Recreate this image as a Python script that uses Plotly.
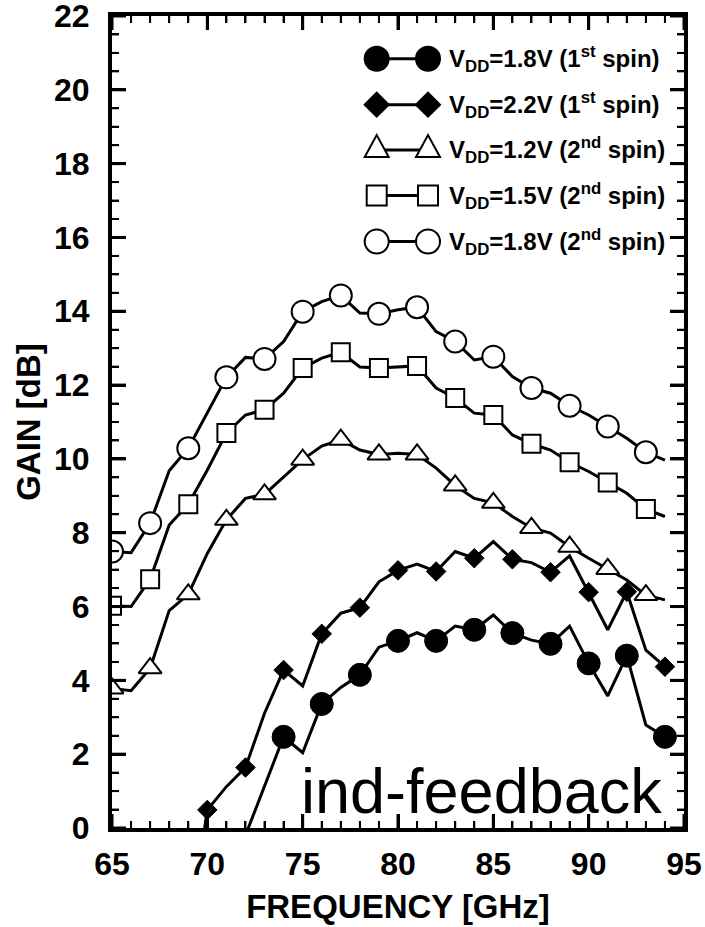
import plotly.graph_objects as go

# ---------------- data ----------------
FREQ_2ND = list(range(65, 95))
MARK_2ND = list(range(65, 95, 2))
GAIN_12V_2ND = [3.78, 3.72, 4.33, 5.89, 6.33, 7.44, 8.35, 8.93, 9.04, 9.52,
                9.98, 10.35, 10.52, 10.24, 10.12, 10.15, 10.12, 9.75, 9.28, 8.93,
                8.81, 8.44, 8.13, 7.99, 7.62, 7.31, 7.02, 6.72, 6.31, 6.18]
GAIN_15V_2ND = [6.02, 6.00, 6.74, 8.21, 8.77, 9.70, 10.70, 11.19, 11.33, 11.78,
                12.46, 12.73, 12.89, 12.49, 12.46, 12.49, 12.52, 11.92, 11.65, 11.24,
                11.19, 10.65, 10.41, 10.24, 9.91, 9.66, 9.36, 9.07, 8.64, 8.44]
GAIN_18V_2ND = [7.49, 7.46, 8.26, 9.68, 10.29, 11.25, 12.21, 12.75, 12.71, 13.18,
                13.99, 14.26, 14.43, 13.95, 13.93, 14.04, 14.11, 13.45, 13.18, 12.68,
                12.77, 12.23, 11.92, 11.78, 11.44, 11.19, 10.88, 10.56, 10.18, 9.97]

FREQ_22V_1ST = list(range(69, 95))
MARK_22V_1ST = list(range(70, 95, 2))
GAIN_22V_1ST = [-3.0, 0.49, 1.12, 1.64, 3.11, 4.28, 3.85, 5.26, 5.82, 5.97,
                6.67, 6.98, 7.15, 6.95, 7.49, 7.31, 7.76, 7.28, 7.19, 6.93,
                7.37, 6.39, 5.37, 6.40, 4.82, 4.37]

FREQ_18V_1ST = list(range(72, 95))
MARK_18V_1ST = list(range(74, 95, 2))
GAIN_18V_1ST = [-0.2, 1.15, 2.47, 2.04, 3.36, 3.81, 4.15, 4.90, 5.07, 5.29,
                5.07, 5.47, 5.37, 5.77, 5.28, 5.09, 4.99, 5.47, 4.46, 3.58,
                4.67, 2.79, 2.47]

LEGEND_LABELS = [
    "V<sub>DD</sub>=1.8V (1<sup>st</sup> spin)",
    "V<sub>DD</sub>=2.2V (1<sup>st</sup> spin)",
    "V<sub>DD</sub>=1.2V (2<sup>nd</sup> spin)",
    "V<sub>DD</sub>=1.5V (2<sup>nd</sup> spin)",
    "V<sub>DD</sub>=1.8V (2<sup>nd</sup> spin)",
]
X_TITLE = "FREQUENCY [GHz]"
Y_TITLE = "GAIN [dB]"
NOTE = "ind-feedback"

X_RANGE = [65, 95]
Y_RANGE = [0, 22]
X_MAJOR, X_MINOR = 5, 1
Y_MAJOR, Y_MINOR = 2, 0.5

# ---------------- figure ----------------
FONT = "Liberation Sans, Arial, sans-serif"
fig = go.Figure()

# plot area in pixels
L, R, T, B = 112, 21, 16, 99
W, H = 705, 927
PW, PH = W - L - R, H - T - B


def add_series(freq, gain, marks, symbol, fill, size, lw):
    fig.add_trace(go.Scatter(x=freq, y=gain, mode="lines",
                             line=dict(color="black", width=3),
                             showlegend=False, hoverinfo="skip"))
    mx = [f for f in freq if f in marks]
    my = [g for f, g in zip(freq, gain) if f in marks]
    fig.add_trace(go.Scatter(x=mx, y=my, mode="markers",
                             marker=dict(symbol=symbol, size=size, color=fill,
                                         line=dict(color="black", width=lw)),
                             showlegend=False))


add_series(FREQ_2ND, GAIN_18V_2ND, MARK_2ND, "circle", "white", 22, 2)
add_series(FREQ_2ND, GAIN_15V_2ND, MARK_2ND, "square", "white", 18, 2)
add_series(FREQ_2ND, GAIN_12V_2ND, MARK_2ND, "triangle-up", "white", 20, 2)
add_series(FREQ_22V_1ST, GAIN_22V_1ST, MARK_22V_1ST, "diamond", "black", 15, 1)
add_series(FREQ_18V_1ST, GAIN_18V_1ST, MARK_18V_1ST, "circle", "black", 23, 1)


# ---- inside tick marks on all four sides (major + minor), built from the axis ranges
def tick_positions(lo, hi, step):
    n = int(round((hi - lo) / step))
    return [lo + i * step for i in range(n + 1)]


x_major = tick_positions(X_RANGE[0], X_RANGE[1], X_MAJOR)
x_minor = [v for v in tick_positions(X_RANGE[0], X_RANGE[1], X_MINOR) if v not in x_major]
y_major = tick_positions(Y_RANGE[0], Y_RANGE[1], Y_MAJOR)
y_minor = [v for v in tick_positions(Y_RANGE[0], Y_RANGE[1], Y_MINOR)
           if all(abs(v - m) > 1e-9 for m in y_major)]

X_PER_PX = (X_RANGE[1] - X_RANGE[0]) / PW
Y_PER_PX = (Y_RANGE[1] - Y_RANGE[0]) / PH


def tick_trace(xvals, yvals, length_px, width):
    tx, ty = [], []
    ly = length_px * Y_PER_PX
    lx = length_px * X_PER_PX
    for v in xvals:
        tx += [v, v, None, v, v, None]
        ty += [Y_RANGE[0], Y_RANGE[0] + ly, None, Y_RANGE[1], Y_RANGE[1] - ly, None]
    for v in yvals:
        tx += [X_RANGE[0], X_RANGE[0] + lx, None, X_RANGE[1], X_RANGE[1] - lx, None]
        ty += [v, v, None, v, v, None]
    fig.add_trace(go.Scatter(x=tx, y=ty, mode="lines",
                             line=dict(color="black", width=width),
                             showlegend=False, hoverinfo="skip"))


tick_trace(x_major, y_major, 14, 3)
tick_trace(x_minor, y_minor, 7, 2)


def px(x):
    return (x - L) / PW


def py(y):
    return (H - B - y) / PH


shapes = []
annotations = []

# custom legend (line with a marker at each end, like the original)
rows_px = [58.7, 104.7, 150.0, 195.5, 241.5]
x_left, x_right, x_text = 376.7, 428.0, 447.0
glyphs = [("circle", "black"), ("diamond", "black"), ("triangle", "white"),
          ("square", "white"), ("circle", "white")]
for (kind, fill), ry, label in zip(glyphs, rows_px, LEGEND_LABELS):
    yp = py(ry)
    shapes.append(dict(type="line", xref="paper", yref="paper",
                       x0=px(x_left), x1=px(x_right), y0=yp, y1=yp,
                       line=dict(color="black", width=3)))
    for xx in (x_left, x_right):
        base = dict(xref="paper", yref="paper", xsizemode="pixel", ysizemode="pixel",
                    xanchor=px(xx), yanchor=yp, fillcolor=fill,
                    line=dict(color="black", width=2))
        if kind == "circle":
            s = dict(base, type="circle", x0=-12, x1=12, y0=-12, y1=12)
        elif kind == "square":
            s = dict(base, type="rect", x0=-10, x1=10, y0=-10, y1=10)
        elif kind == "diamond":
            s = dict(base, type="path", path="M-12,0 L0,12 L12,0 L0,-12 Z")
        else:
            s = dict(base, type="path", path="M-12,-7 L12,-7 L0,15 Z")
        shapes.append(s)
    annotations.append(dict(xref="paper", yref="paper", x=px(x_text), y=yp,
                            xanchor="left", yanchor="middle", showarrow=False,
                            text=label,
                            font=dict(family=FONT, size=24, color="black", weight="bold")))

annotations.append(dict(xref="paper", yref="paper", x=px(664), y=0,
                        xanchor="right", yanchor="bottom", showarrow=False,
                        text=NOTE,
                        font=dict(family=FONT, size=63, color="black")))

tickfont = dict(family=FONT, size=32, color="black", weight="bold")
titlefont = dict(family=FONT, size=33, color="black", weight="bold")

fig.update_layout(
    width=W, height=H,
    margin=dict(l=L, r=R, t=T, b=B, autoexpand=False),
    paper_bgcolor="white", plot_bgcolor="white",
    showlegend=False,
    xaxis=dict(showline=True, linecolor="black", linewidth=4, mirror="ticks",
               ticks="inside", ticklen=14, tickwidth=3, tickcolor="black",
               minor=dict(ticks="inside", ticklen=7, tickwidth=2, dtick=X_MINOR,
                          tickcolor="black", showgrid=False),
               showgrid=False, zeroline=False, tickfont=tickfont,
               ticklabeloverflow="allow", ticklabelstandoff=5,
               range=X_RANGE, tickmode="linear", tick0=X_RANGE[0], dtick=X_MAJOR,
               title=dict(text=X_TITLE, standoff=14, font=titlefont)),
    yaxis=dict(showline=True, linecolor="black", linewidth=4, mirror="ticks",
               ticks="inside", ticklen=14, tickwidth=3, tickcolor="black",
               minor=dict(ticks="inside", ticklen=7, tickwidth=2, dtick=Y_MINOR,
                          tickcolor="black", showgrid=False),
               showgrid=False, zeroline=False, tickfont=tickfont,
               ticklabeloverflow="allow", ticklabelstandoff=12,
               range=Y_RANGE, tickmode="linear", tick0=Y_RANGE[0], dtick=Y_MAJOR,
               title=dict(text=Y_TITLE, standoff=4, font=titlefont)),
    shapes=shapes,
    annotations=annotations,
)

fig.write_html("out.html")
